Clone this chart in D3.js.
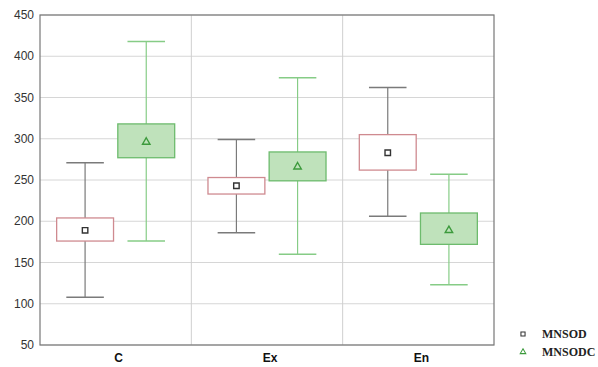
<!DOCTYPE html>
<html>
<head>
<meta charset="utf-8">
<script src="https://cdn.jsdelivr.net/npm/d3@7"></script>
<style>
body{margin:0;background:#fff;}
svg{display:block;}
</style>
</head>
<body>
<svg id="chart" width="598" height="367"></svg>
<script>
var categories=["C","Ex","En"];
var series=["MNSOD","MNSODC"];
// [whiskerLow, boxLow, mean, boxHigh, whiskerHigh]
var mnsod=[[108,176,189,204,271],[186,233,243,253,299],[206,262,283,305,362]];
var mnsodc=[[176,277,296,318,418],[160,249,266,284,374],[123,172,189,210,257]];
var yTicks=[50,100,150,200,250,300,350,400,450];

var margin={top:15,right:104,bottom:22,left:40},
    width=598-margin.left-margin.right,
    height=367-margin.top-margin.bottom;

var svg=d3.select("#chart");
var g=svg.append("g").attr("transform","translate("+margin.left+","+margin.top+")");

var x=d3.scaleBand().domain(categories).range([0,width]).padding(0);
var bw=x.bandwidth();
var xs=d3.scaleBand().domain(series).range([bw*0.11,bw*0.89]).paddingInner(0.07);
var y=d3.scaleLinear().domain([50,450]).range([height,0]);

// grid
g.append("g").selectAll("line").data(yTicks).enter().append("line")
  .attr("x1",0).attr("x2",width).attr("y1",d=>y(d)).attr("y2",d=>y(d))
  .attr("stroke","#d6d6d6").attr("stroke-width",1);
g.append("g").selectAll("line").data(categories.slice(1)).enter().append("line")
  .attr("x1",d=>x(d)).attr("x2",d=>x(d)).attr("y1",0).attr("y2",height)
  .attr("stroke","#cfcfcf").attr("stroke-width",1);

var styles={
  MNSOD:{fill:"#ffffff",stroke:"#cf8a90",whisker:"#7a7a7a"},
  MNSODC:{fill:"#bfe2bb",stroke:"#6dbb6d",whisker:"#86cc86"}
};

var rows=[];
categories.forEach(function(c,i){
  rows.push({cat:c,s:"MNSOD",v:mnsod[i]});
  rows.push({cat:c,s:"MNSODC",v:mnsodc[i]});
});

var box=g.selectAll(".box").data(rows).enter().append("g").attr("class","box")
  .attr("transform",d=>"translate("+(x(d.cat)+xs(d.s))+",0)");
var sb=xs.bandwidth(), cx=sb/2, cap=sb*0.33;

box.append("line").attr("x1",cx).attr("x2",cx)
  .attr("y1",d=>y(d.v[4])).attr("y2",d=>y(d.v[0]))
  .attr("stroke",d=>styles[d.s].whisker).attr("stroke-width",1.2);
box.append("line").attr("x1",cx-cap).attr("x2",cx+cap)
  .attr("y1",d=>y(d.v[4])).attr("y2",d=>y(d.v[4]))
  .attr("stroke",d=>styles[d.s].whisker).attr("stroke-width",1.5);
box.append("line").attr("x1",cx-cap).attr("x2",cx+cap)
  .attr("y1",d=>y(d.v[0])).attr("y2",d=>y(d.v[0]))
  .attr("stroke",d=>styles[d.s].whisker).attr("stroke-width",1.5);
box.append("rect").attr("x",0).attr("width",sb)
  .attr("y",d=>y(d.v[3])).attr("height",d=>y(d.v[1])-y(d.v[3]))
  .attr("fill",d=>styles[d.s].fill).attr("stroke",d=>styles[d.s].stroke).attr("stroke-width",1.3);

var sq=d3.symbol().type(d3.symbolSquare).size(30);
var tri=d3.symbol().type(d3.symbolTriangle).size(24);
box.append("path")
  .attr("transform",d=>"translate("+cx+","+y(d.v[2])+")")
  .attr("d",d=>d.s==="MNSOD"?sq():tri())
  .attr("fill","none")
  .attr("stroke",d=>d.s==="MNSOD"?"#333":"#3c9a3c")
  .attr("stroke-width",1.4);

// frame
g.append("rect").attr("width",width).attr("height",height)
  .attr("fill","none").attr("stroke","#777").attr("stroke-width",1.2);

// y axis labels
g.append("g").selectAll("text").data(yTicks).enter().append("text")
  .attr("x",-6).attr("y",d=>y(d)).attr("dy","0.35em").attr("text-anchor","end")
  .attr("font-family","Liberation Sans, Arial, sans-serif").attr("font-size",12).attr("fill","#333")
  .text(d=>d);

// x labels
g.append("g").selectAll("text").data(categories).enter().append("text")
  .attr("x",d=>x(d)+bw/2+3).attr("y",height+17).attr("text-anchor","middle")
  .attr("font-family","Liberation Sans, Arial, sans-serif").attr("font-size",12).attr("font-weight","bold").attr("fill","#111")
  .text(d=>d);

// legend
var lg=svg.append("g").attr("transform","translate(523,334)");
series.forEach(function(s,i){
  var row=lg.append("g").attr("transform","translate(0,"+(i*18)+")");
  row.append("path").attr("d",i===0?sq():tri())
    .attr("fill","none").attr("stroke",i===0?"#333":"#3c9a3c").attr("stroke-width",1.4)
    .attr("transform","scale(0.75)");
  row.append("text").attr("x",19).attr("dy","0.35em")
    .attr("font-family","Liberation Serif, Times New Roman, serif").attr("font-size",12).attr("font-weight","bold").attr("fill","#222")
    .text(s);
});
</script>
</body>
</html>
